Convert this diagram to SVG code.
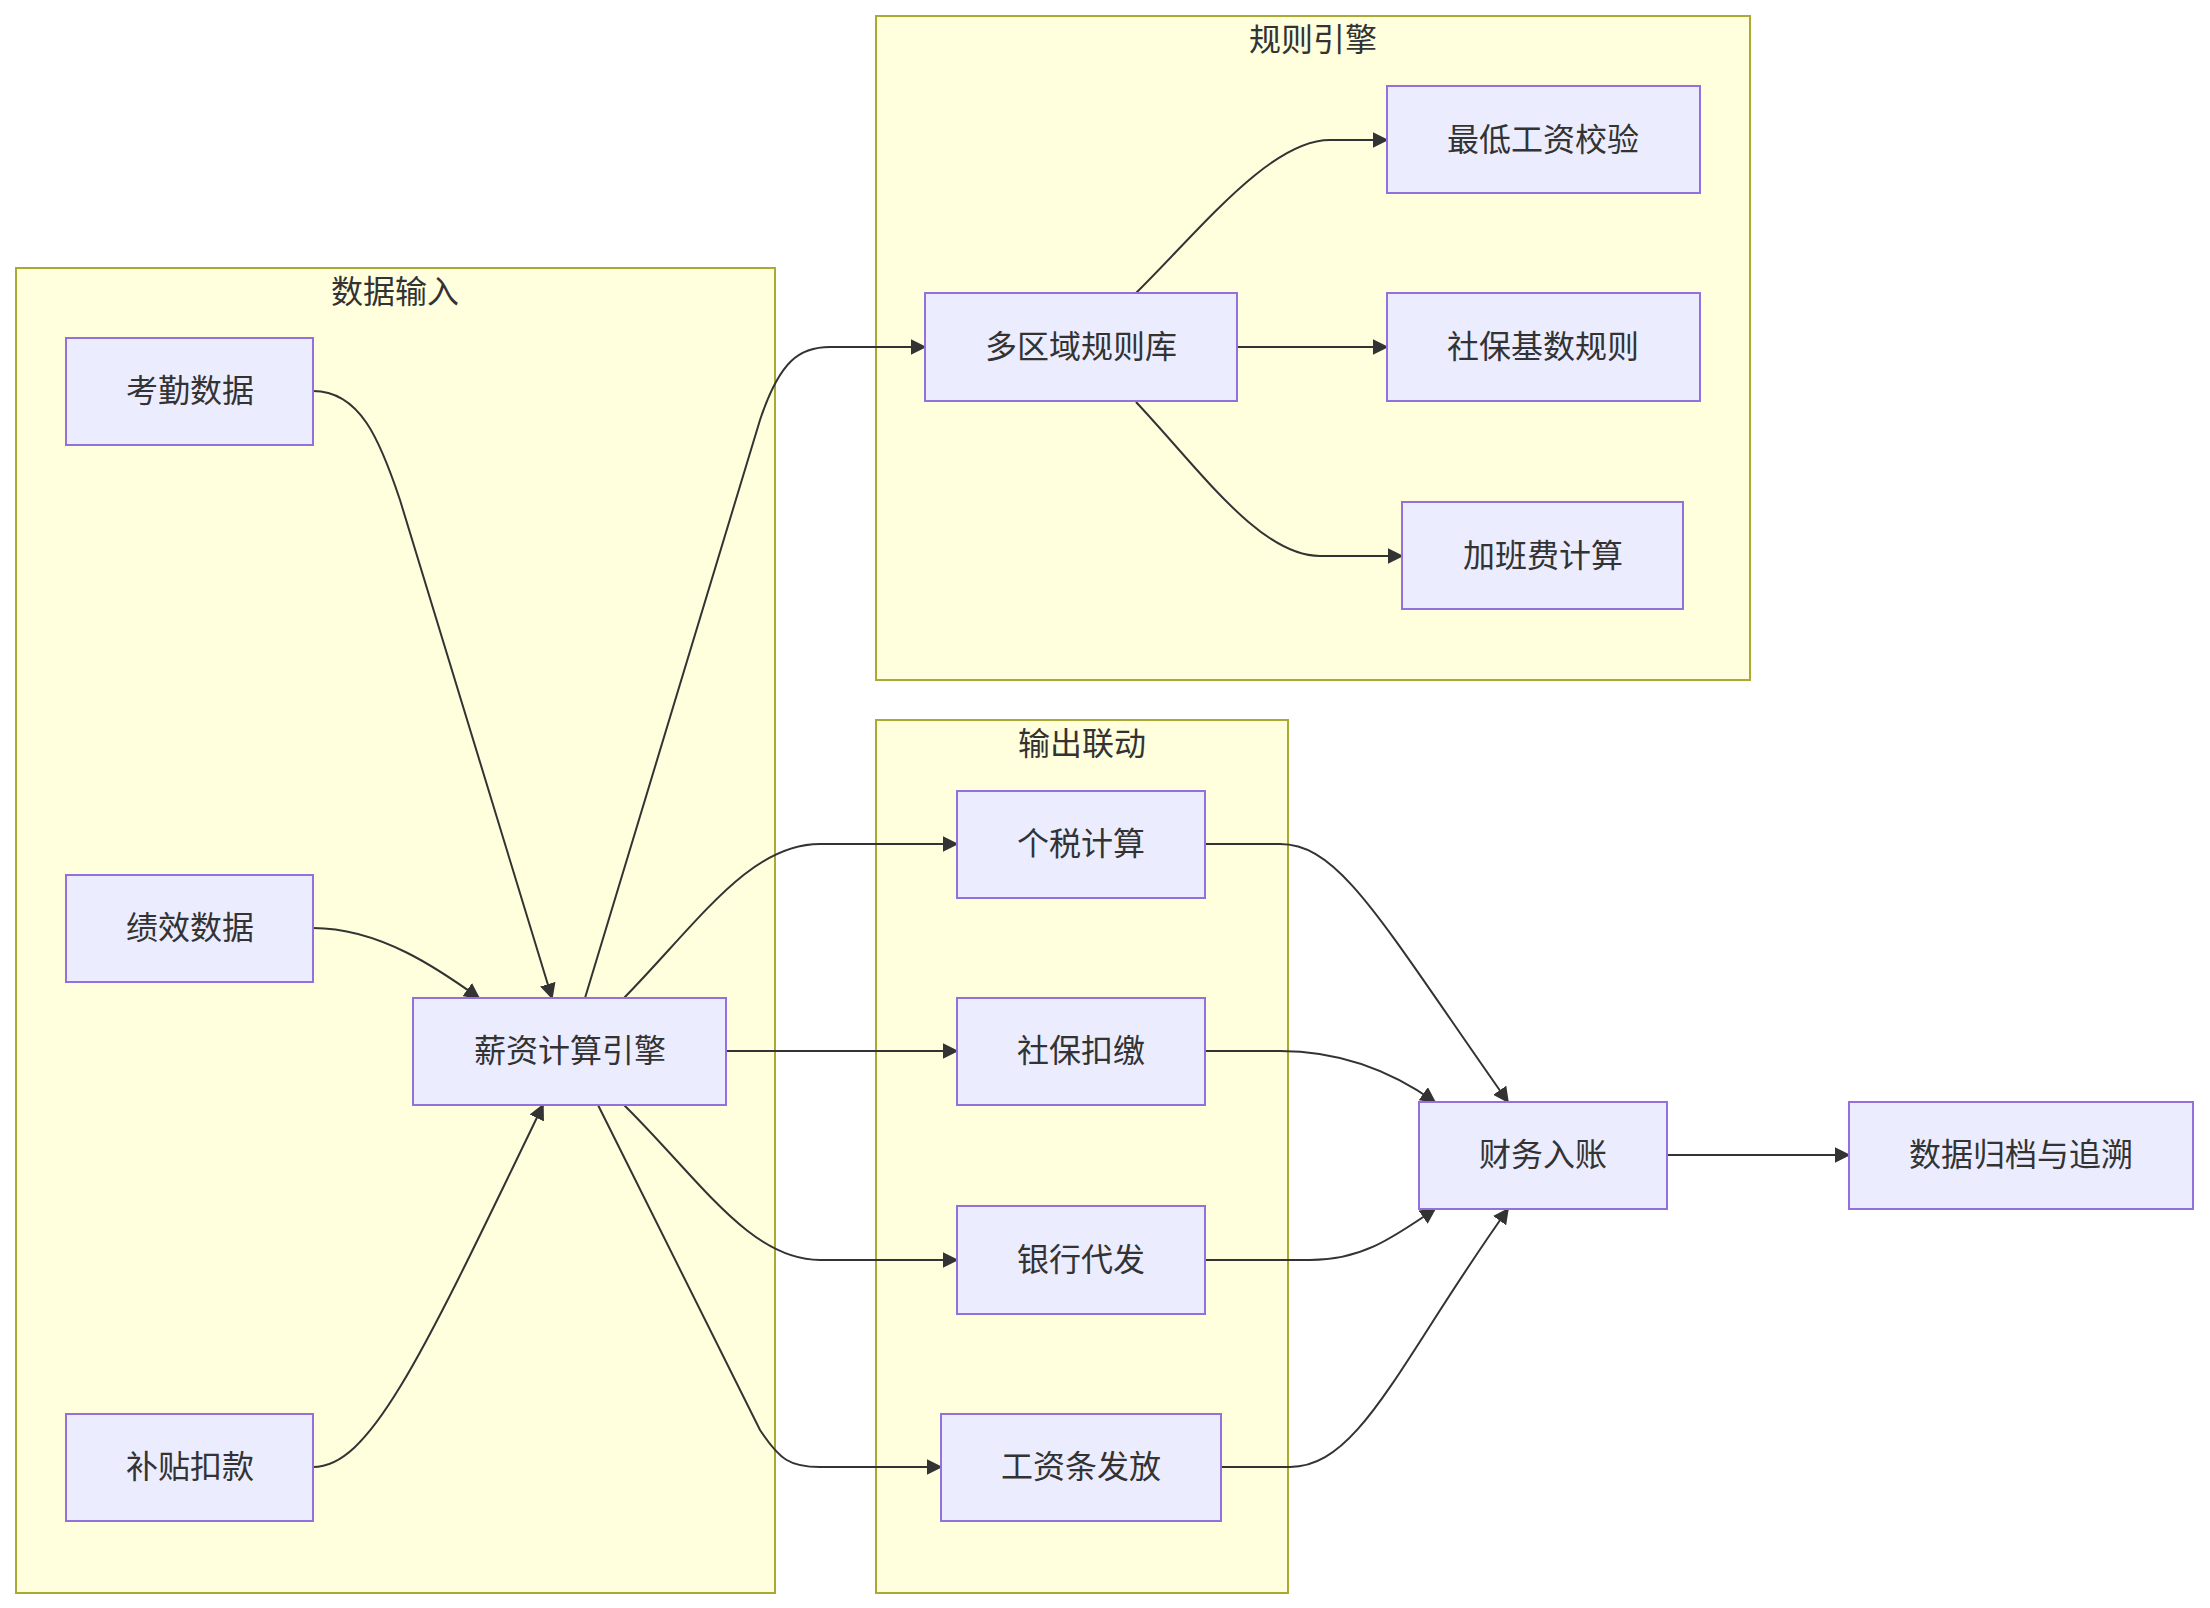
<svg xmlns="http://www.w3.org/2000/svg" width="2210" height="1608" viewBox="0 0 2210 1608">
<style>
.cl{fill:#ffffde;stroke:#aaaa33;stroke-width:2}
.n{fill:#ececff;stroke:#9370db;stroke-width:2}
text{font-family:"Liberation Sans","Noto Sans CJK SC",sans-serif;font-size:32px;fill:#333;text-anchor:middle;dominant-baseline:central}
.e{fill:none;stroke:#333;stroke-width:2;marker-end:url(#a)}
</style>
<defs><marker id="a" viewBox="0 0 10 10" refX="9" refY="5" markerWidth="16" markerHeight="16" orient="auto" markerUnits="userSpaceOnUse"><path d="M0,0L10,5L0,10z" fill="#333"/></marker></defs>
<rect width="2210" height="1608" fill="#fff"/>
<g id="c1"><rect class="cl" x="16" y="268" width="759" height="1325"/><text x="395" y="292">数据输入</text></g>
<g id="c2"><rect class="cl" x="876" y="16" width="874" height="664"/><text x="1313" y="40">规则引擎</text></g>
<g id="c3"><rect class="cl" x="876" y="720" width="412" height="873"/><text x="1082" y="744">输出联动</text></g>
<g id="edges">
<path class="e" d="M313,391 C360,391 380,440 400,500 L552,998"/>
<path class="e" d="M313,928 C380,928 440,970 479,998"/>
<path class="e" d="M313,1467 C370,1467 420,1360 543,1105"/>
<path class="e" d="M585,998 L760,420 C780,360 800,347 830,347 L925,347"/>
<path class="e" d="M1136,293 C1200,230 1270,140 1330,140 L1387,140"/>
<path class="e" d="M1237,347 L1387,347"/>
<path class="e" d="M1136,402 C1200,470 1260,556 1320,556 L1402,556"/>
<path class="e" d="M624,998 C700,920 750,844 820,844 L957,844"/>
<path class="e" d="M726,1051 L957,1051"/>
<path class="e" d="M624,1105 C700,1180 750,1260 820,1260 L957,1260"/>
<path class="e" d="M598,1105 L760,1430 C780,1460 790,1467 820,1467 L941,1467"/>
<path class="e" d="M1205,844 L1280,844 C1340,844 1380,920 1508,1102"/>
<path class="e" d="M1205,1051 L1280,1051 C1340,1051 1390,1070 1435,1102"/>
<path class="e" d="M1205,1260 L1310,1260 C1360,1260 1390,1240 1435,1209"/>
<path class="e" d="M1221,1467 L1290,1467 C1360,1467 1400,1360 1508,1209"/>
<path class="e" d="M1667,1155 L1849,1155"/>
</g>
<g id="n1"><rect class="n" x="66" y="338" width="247" height="107"/><text x="190" y="391">考勤数据</text></g>
<g id="n2"><rect class="n" x="66" y="875" width="247" height="107"/><text x="190" y="928">绩效数据</text></g>
<g id="n3"><rect class="n" x="66" y="1414" width="247" height="107"/><text x="190" y="1467">补贴扣款</text></g>
<g id="n4"><rect class="n" x="413" y="998" width="313" height="107"/><text x="570" y="1051">薪资计算引擎</text></g>
<g id="n5"><rect class="n" x="925" y="293" width="312" height="108"/><text x="1081" y="347">多区域规则库</text></g>
<g id="n6"><rect class="n" x="1387" y="86" width="313" height="107"/><text x="1543" y="140">最低工资校验</text></g>
<g id="n7"><rect class="n" x="1387" y="293" width="313" height="108"/><text x="1543" y="347">社保基数规则</text></g>
<g id="n8"><rect class="n" x="1402" y="502" width="281" height="107"/><text x="1543" y="556">加班费计算</text></g>
<g id="n9"><rect class="n" x="957" y="791" width="248" height="107"/><text x="1081" y="844">个税计算</text></g>
<g id="n10"><rect class="n" x="957" y="998" width="248" height="107"/><text x="1081" y="1051">社保扣缴</text></g>
<g id="n11"><rect class="n" x="957" y="1206" width="248" height="108"/><text x="1081" y="1260">银行代发</text></g>
<g id="n12"><rect class="n" x="941" y="1414" width="280" height="107"/><text x="1081" y="1467">工资条发放</text></g>
<g id="n13"><rect class="n" x="1419" y="1102" width="248" height="107"/><text x="1543" y="1155">财务入账</text></g>
<g id="n14"><rect class="n" x="1849" y="1102" width="344" height="107"/><text x="2021" y="1155">数据归档与追溯</text></g>
</svg>
